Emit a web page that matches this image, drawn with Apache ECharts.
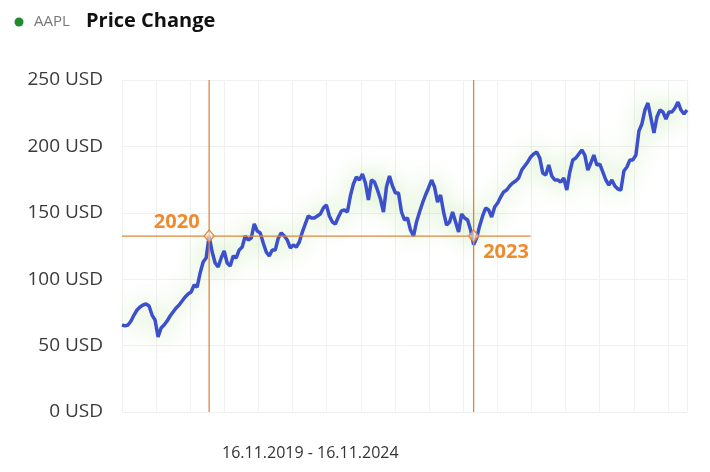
<!DOCTYPE html>
<html lang="en">
<head>
    <meta charset="UTF-8">
    <title>AAPL Price Change</title>
    <style>
        html, body { margin: 0; padding: 0; background: #fff; }
        #chart { width: 710px; height: 472px; }
    </style>
</head>
<body>
    <div id="chart"></div>
    <script src="https://cdn.jsdelivr.net/npm/echarts@6.0.0/dist/echarts.min.js"></script>
    <script>

        // closing prices, evenly spaced from 16.11.2019 to 16.11.2024
        var prices = [
            65.5, 64.8, 65.5, 68.5, 73.0, 76.8, 79.1, 80.6, 81.3, 79.8,
            73.0, 69.3, 56.5, 63.3, 65.5, 68.5, 72.3, 75.3, 78.3, 80.6,
            83.6, 86.6, 88.9, 90.4, 95.6, 94.1, 104.7, 113.0, 116.0, 132.5,
            120.5, 112.2, 109.2, 116.0, 121.2, 112.2, 109.9, 117.5, 116.0, 122.0,
            124.2, 132.5, 129.5, 131.0, 141.6, 136.3, 134.8, 127.3, 120.5, 117.5,
            122.0, 122.0, 131.0, 134.8, 132.5, 129.5, 123.5, 125.8, 124.2, 128.0,
            135.5, 141.6, 147.6, 146.1, 146.1, 147.6, 149.1, 153.6, 155.9, 147.6,
            143.1, 141.6, 146.8, 151.4, 152.1, 150.6, 162.7, 171.7, 177.0, 174.7,
            179.2, 172.4, 159.6, 174.7, 173.2, 167.2, 160.4, 150.6, 169.4, 177.7,
            170.2, 164.9, 164.9, 150.6, 144.6, 146.1, 137.0, 132.5, 143.1, 150.6,
            157.4, 163.4, 168.7, 174.7, 169.4, 158.1, 163.4, 150.6, 140.8, 143.1,
            150.6, 143.1, 135.5, 149.1, 146.1, 144.6, 137.0, 126.0, 131.0, 140.1,
            147.6, 153.6, 152.1, 146.8, 154.4, 157.4, 161.9, 165.7, 167.2, 170.2,
            172.4, 173.9, 176.2, 182.2, 185.2, 188.3, 192.0, 194.3, 195.8, 191.3,
            180.0, 178.5, 186.0, 177.7, 174.7, 174.7, 173.2, 176.2, 167.2, 180.7,
            189.8, 191.3, 194.3, 197.3, 193.5, 182.2, 187.5, 193.5, 186.0, 186.7,
            180.7, 174.7, 170.9, 174.7, 170.2, 167.9, 167.2, 181.5, 184.5, 189.8,
            189.8, 193.5, 211.6, 216.9, 227.4, 232.7, 221.4, 210.1, 222.1, 227.4,
            225.9, 220.6, 225.9, 225.9, 228.9, 233.4, 227.4, 224.4, 227.4
        ];

        var yTicks = [0, 50, 100, 150, 200, 250];
        var markYears = ['2020', '2023'];
        var markIndex = [29, 117];      // where the crosshairs sit
        var markPrice = 132.5;
        var crossEnd = 136;             // horizontal crosshair stops here
        var periodText = '16.11.2019 - 16.11.2024';

        // date label per point
        var dates = [];
        var start = new Date(2019, 10, 16).getTime();
        var step = (new Date(2024, 10, 16).getTime() - start) / (prices.length - 1);
        for (var i = 0; i < prices.length; i++) {
            var d = new Date(start + step * i);
            dates.push(('0' + d.getDate()).slice(-2) + '.' + ('0' + (d.getMonth() + 1)).slice(-2) + '.' + d.getFullYear());
        }

        var yMin = yTicks[0];
        var yMax = yTicks[yTicks.length - 1];
        var orange = '#e0863a';
        var font = 'Open Sans';

        // crosshair as a plain line series (one segment per pair)
        function crossSeries(points) {
            return {
                type: 'line',
                data: points,
                silent: true,
                symbol: 'none',
                z: 3,
                lineStyle: { color: orange, width: 1.3 },
                emphasis: { disabled: true }
            };
        }

        var option = {
            animation: false,
            grid: { left: 122, right: 23, top: 80, bottom: 60 },
            xAxis: [
                {
                    type: 'category',
                    data: dates,
                    boundaryGap: false,
                    axisLine: { show: false },
                    axisTick: { show: false },
                    axisLabel: { show: false },
                    splitLine: { show: false }
                },
                {
                    // only draws the faint vertical grid
                    type: 'value',
                    min: 0,
                    max: 16.557,
                    interval: 1,
                    axisLine: { show: false },
                    axisTick: { show: false },
                    axisLabel: { show: false },
                    splitLine: { show: true, lineStyle: { color: '#f1f1f1', width: 1 } }
                }
            ],
            yAxis: {
                type: 'value',
                min: yMin,
                max: yMax,
                interval: 50,
                axisLine: { show: false },
                axisTick: { show: false },
                axisLabel: {
                    formatter: '{value} USD',
                    fontFamily: font,
                    fontSize: 19,
                    color: '#3a3a3a',
                    margin: 19
                },
                splitLine: { lineStyle: { color: '#f0f0f0', width: 1 } }
            },
            series: [
                {
                    type: 'line',
                    data: prices,
                    xAxisIndex: 0,
                    showSymbol: false,
                    symbol: 'none',
                    z: 2,
                    lineStyle: {
                        color: '#3d50cc',
                        width: 3.5,
                        shadowColor: 'rgba(140, 210, 100, 0.7)',
                        shadowBlur: 24
                    },
                    markPoint: {
                        silent: true,
                        symbol: 'diamond',
                        symbolSize: [10, 12],
                        itemStyle: { color: 'rgba(255,255,255,0.5)', borderColor: orange, borderWidth: 1.2 },
                        label: {
                            fontFamily: font,
                            fontSize: 20,
                            fontWeight: 'bold',
                            color: '#f08a2e'
                        },
                        data: [
                            {
                                coord: [dates[markIndex[0]], markPrice],
                                value: markYears[0],
                                label: { position: 'left', distance: 4, offset: [0, -14] }
                            },
                            {
                                coord: [dates[markIndex[1]], markPrice],
                                value: markYears[1],
                                label: { position: 'right', distance: 4, offset: [0, 16] }
                            }
                        ]
                    }
                },
                crossSeries([[dates[markIndex[0]], yMin], [dates[markIndex[0]], yMax]]),
                crossSeries([[dates[markIndex[1]], yMin], [dates[markIndex[1]], yMax]]),
                crossSeries([[dates[0], markPrice], [dates[crossEnd], markPrice]])
            ],
            graphic: [
                { type: 'circle', shape: { cx: 19, cy: 22, r: 4.5 }, style: { fill: '#1f8b2f' } },
                {
                    type: 'text', left: 34, top: 14,
                    style: { text: 'AAPL', fontFamily: font, fontSize: 15, fill: '#777' }
                },
                {
                    type: 'text', left: 86, top: 11,
                    style: { text: 'Price Change', fontFamily: font, fontSize: 20, fontWeight: 'bold', fill: '#111' }
                },
                {
                    type: 'text', left: 222, top: 445,
                    style: { text: periodText, fontFamily: font, fontSize: 16, fill: '#333' }
                }
            ]
        };

        var chart = echarts.init(document.getElementById('chart'));
        chart.setOption(option);

    </script>
</body>
</html>
